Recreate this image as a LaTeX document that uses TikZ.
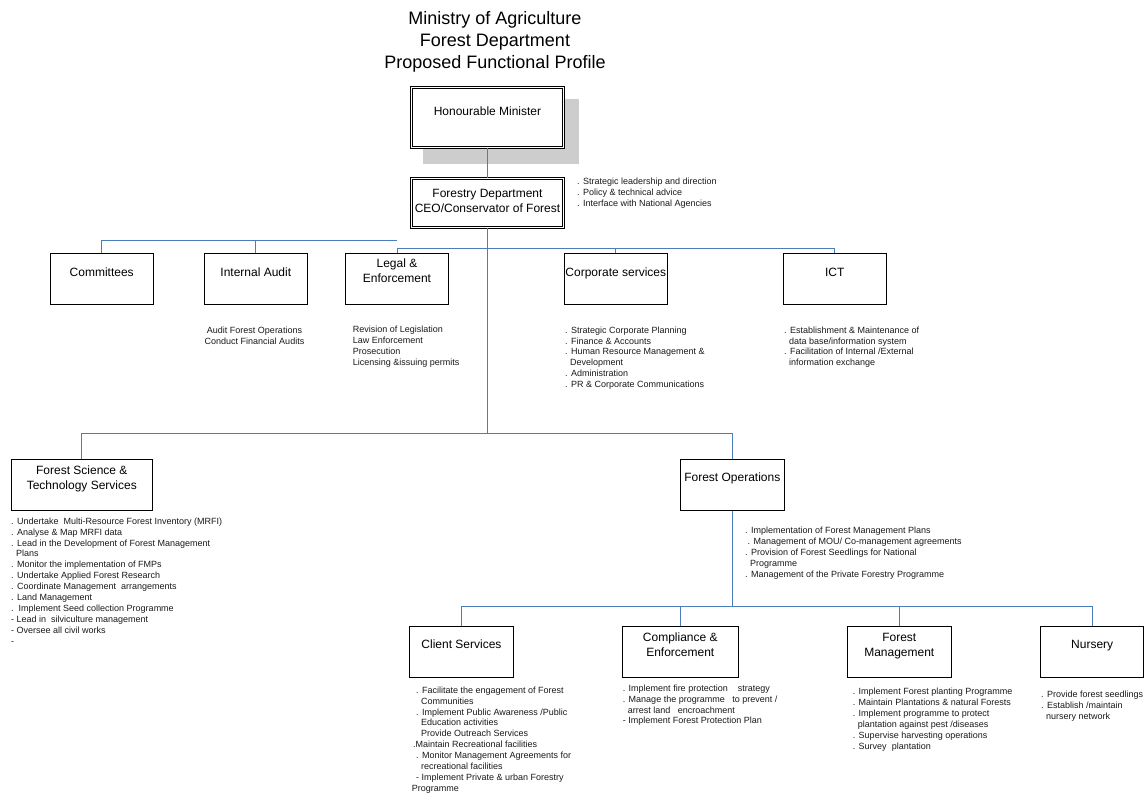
\documentclass[tikz,border=0pt]{standalone}
\usepackage{fontspec}
\setmainfont{Liberation Sans}
\definecolor{linkblue}{RGB}{74,126,187}
\definecolor{shadowgray}{RGB}{205,205,205}
\definecolor{ink}{RGB}{25,25,25}
% top-aligned block of lines: baseline of the node is the first line
\newcommand\duties[1]{\parbox[t]{300pt}{\raggedright #1}}
\newcommand\boxtext[1]{\parbox[t]{150pt}{\centering #1}}
\newcommand\ind{\hspace*{5pt}}
\begin{document}
\begin{tikzpicture}[x=1pt,y=-1pt,
  box/.style={draw=black, line width=0.8pt, fill=white, minimum width=103.3pt,
              minimum height=51.4pt, inner sep=0pt},
  dbox/.style={draw=black, double, double distance=1.7pt, line width=0.6pt,
               fill=white, inner sep=0pt, minimum width=152pt},
  conn/.style={draw=linkblue, line width=0.9pt},
  lbl/.style={font=\fontsize{12}{15}\selectfont, anchor=base, inner sep=0pt},
  duty/.style={font=\fontsize{9}{10.9}\selectfont, text=ink, anchor=base west, inner sep=0pt},
  dutyc/.style={duty, anchor=base}]
\useasboundingbox (0,0) rectangle (1144,794);

% heading
\node[anchor=base, inner sep=0pt, font=\fontsize{18}{21.7}\selectfont] (heading) at (495,24.7)
  {\parbox[t]{320pt}{\centering Ministry of Agriculture\\Forest Department\\Proposed Functional Profile}};

% minister with drop shadow
\fill[shadowgray] (423,99) rectangle (579,164);
\node[dbox, minimum height=60pt] (minister) at (487.5,117.5) {};
\node[lbl] (ministerT) at (487.5,115.3) {Honourable Minister};

% department head
\node[dbox, minimum height=49pt] (dept) at (487.5,203) {};
\node[lbl] (deptT) at (487.5,197.3) {\boxtext{Forestry Department\\CEO/Conservator of Forest}};
\node[duty, font=\fontsize{9}{10.7}\selectfont] (deptD) at (577,185)
  {\duties{. Strategic leadership and direction\\. Policy \& technical advice\\. Interface with National Agencies}};

% first tier
\node[box] (comm)  at (101.7,279) {};
\node[box] (audit) at (255.8,279) {};
\node[box] (legal) at (397,279) {};
\node[box] (corp)  at (615.8,279) {};
\node[box] (ict)   at (834.7,279) {};
\node[lbl] (commT)  at (101.7,276.3) {Committees};
\node[lbl] (auditT) at (255.8,276.3) {Internal Audit};
\node[lbl] (legalT) at (397,268) {\boxtext{Legal \&\\Enforcement}};
\node[lbl] (corpT)  at (615.8,276.3) {Corporate services};
\node[lbl] (ictT)   at (834.7,276.3) {ICT};

\node[dutyc] (auditD) at (254.5,333.2)
  {\parbox[t]{150pt}{\centering Audit Forest Operations\\Conduct Financial Audits}};
\node[duty] (legalD) at (352.7,332.4)
  {\duties{Revision of Legislation\\Law Enforcement\\Prosecution\\Licensing \&issuing permits}};
\node[duty] (corpD) at (565,333.2)
  {\duties{. Strategic Corporate Planning\\. Finance \& Accounts\\. Human Resource Management \&\\\ind Development\\. Administration\\. PR \& Corporate Communications}};
\node[duty] (ictD) at (784,333.2)
  {\duties{. Establishment \& Maintenance of\\\ind data base/information system\\. Facilitation of Internal /External\\\ind information exchange}};

% second tier
\node[box, minimum width=141.7pt, minimum height=51.7pt] (fsts) at (81.8,484.9) {};
\node[box, minimum height=51.7pt] (fops) at (732.3,484.9) {};
\node[lbl] (fstsT) at (81.8,474.3) {\boxtext{Forest Science \&\\Technology Services}};
\node[lbl] (fopsT) at (732.3,481) {Forest Operations};

\node[duty] (fstsD) at (11,524.2)
  {\duties{. Undertake\ \ Multi-Resource Forest Inventory (MRFI)\\
  . Analyse \& Map MRFI data\\
  . Lead in the Development of Forest Management\\
  \ind Plans\\
  . Monitor the implementation of FMPs\\
  . Undertake Applied Forest Research\\
  . Coordinate Management\ \ arrangements\\
  . Land Management\\
  .\ \ Implement Seed collection Programme\\
  - Lead in\ \ silviculture management\\
  - Oversee all civil works\\
  -}};
\node[duty, font=\fontsize{9}{11.1}\selectfont] (fopsD) at (745,533.2)
  {\duties{. Implementation of Forest Management Plans\\
  \hspace*{2.5pt}. Management of MOU/ Co-management agreements\\
  . Provision of Forest Seedlings for National\\
  \ind Programme\\
  . Management of the Private Forestry Programme}};

% third tier
\node[box] (client)  at (461.5,651.8) {};
\node[box, minimum width=116.5pt] (compl) at (680.3,651.8) {};
\node[box] (fmgmt)   at (899.3,651.8) {};
\node[box] (nursery) at (1092.2,651.8) {};
\node[lbl] (clientT)  at (461.5,648.6) {Client Services};
\node[lbl] (complT)   at (680.3,641.3) {\boxtext{Compliance \&\\Enforcement}};
\node[lbl] (fmgmtT)   at (899.3,641.3) {\boxtext{Forest\\Management}};
\node[lbl] (nurseryT) at (1092.2,648.6) {Nursery};

\node[duty] (clientD) at (416,693.2)
  {\duties{. Facilitate the engagement of Forest\\
  \ind Communities\\
  . Implement Public Awareness /Public\\
  \ind Education activities\\
  \ind Provide Outreach Services\\
  \hspace*{-3pt}.Maintain Recreational facilities\\
  . Monitor Management Agreements for\\
  \ind recreational facilities\\
  - Implement Private \& urban Forestry\\
  \hspace*{-4.3pt}Programme}};
\node[duty, font=\fontsize{9}{10.8}\selectfont] (complD) at (622.7,691.5)
  {\duties{. Implement fire protection\ \ \ \ strategy\\
  . Manage the programme\ \ \ to prevent /\\
  \ind arrest land\ \ \ encroachment\\
  - Implement Forest Protection Plan}};
\node[duty] (fmgmtD) at (852.7,694.9)
  {\duties{. Implement Forest planting Programme\\
  . Maintain Plantations \& natural Forests\\
  . Implement programme to protect\\
  \ind plantation against pest /diseases\\
  . Supervise harvesting operations\\
  . Survey\ \ plantation}};
\node[duty, font=\fontsize{9}{10.8}\selectfont] (nurseryD) at (1041,697.5)
  {\duties{. Provide forest seedlings\\
  . Establish /maintain\\
  \ind nursery network}};

% bus levels
\coordinate (busTop) at (397,240.7);
\coordinate (busA) at (0,248.3);
\coordinate (busB) at (0,433);
\coordinate (busC) at (0,606.7);

% connectors
\draw[conn] (minister.south) -- (dept.north);
\draw[conn] (dept.south) -- (dept.south |- busB);
\draw[conn] (comm.north) |- (busTop);
\draw[conn] (audit.north) -- (audit.north |- busTop);
\draw[conn] (legal.north) -- (legal.north |- busA) -| (ict.north);
\draw[conn] (corp.north) -- (corp.north |- busA);
\draw[conn] (fsts.north) -- (fsts.north |- busB) -| (fops.north);
\draw[conn] (fops.south) -- (fops.south |- busC);
\draw[conn] (client.north) -- (client.north |- busC) -| (nursery.north);
\draw[conn] (compl.north) -- (compl.north |- busC);
\draw[conn] (fmgmt.north) -- (fmgmt.north |- busC);
\end{tikzpicture}
\end{document}
